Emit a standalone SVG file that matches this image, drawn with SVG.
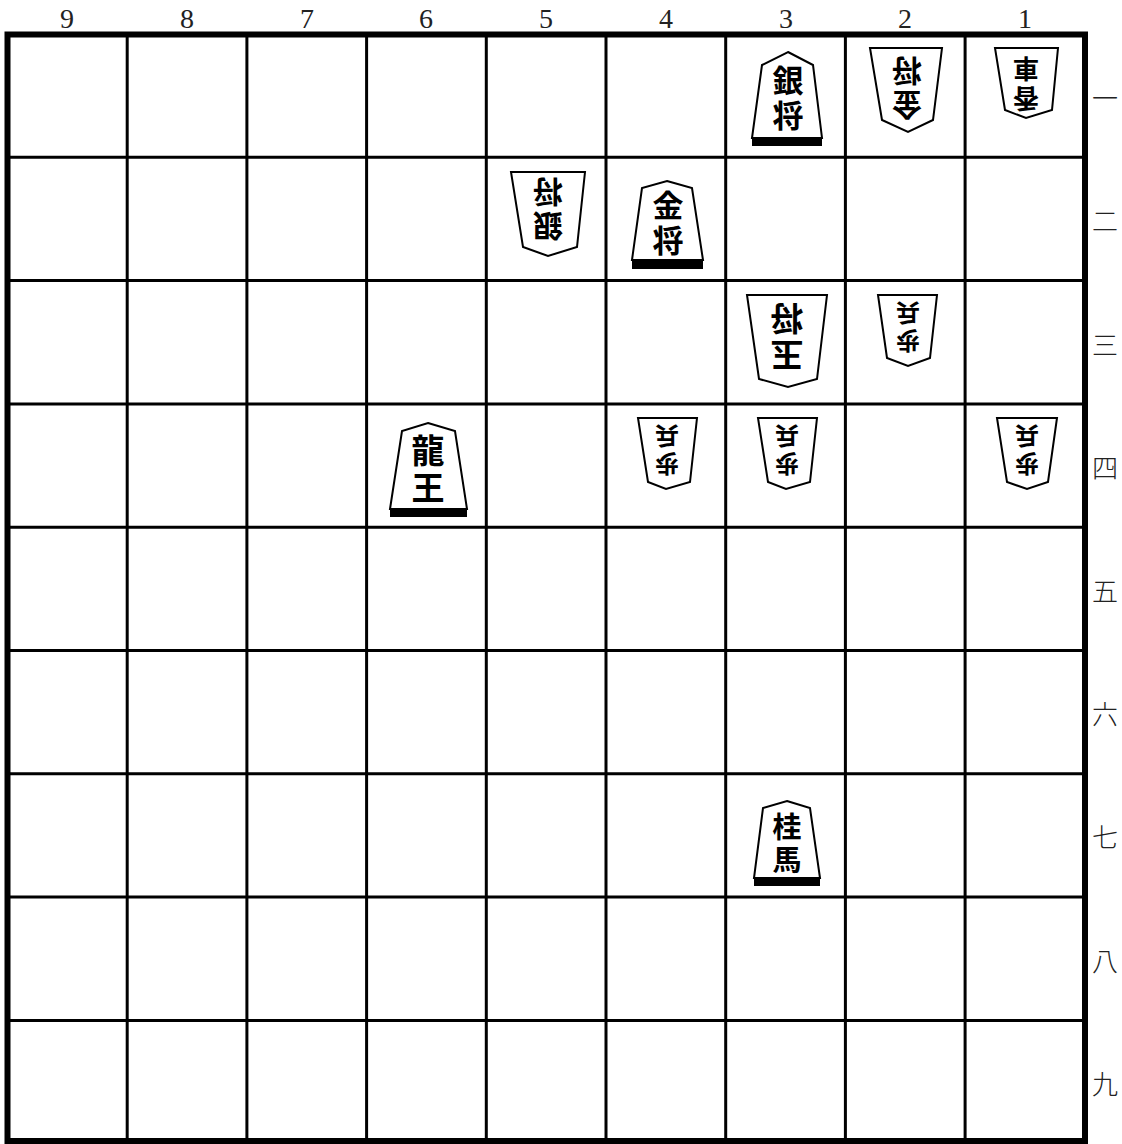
<svg xmlns="http://www.w3.org/2000/svg" width="1122" height="1144" viewBox="0 0 1122 1144">
<style>
.grid{stroke:#000;stroke-width:3;fill:none}
.border{stroke:#000;stroke-width:6;fill:none}
.col{font-family:"Liberation Serif",serif;font-size:28px;fill:#222;text-anchor:middle}
.row{font-family:"Noto Sans CJK JP",sans-serif;font-weight:300;font-size:26px;fill:#222;text-anchor:middle;dominant-baseline:central}
.pc{fill:#fff;stroke:#000;stroke-width:2;stroke-linejoin:miter}
.sh{fill:#000}
.ch{font-family:"Noto Sans CJK JP",sans-serif;font-weight:700;fill:#000;text-anchor:middle;writing-mode:vertical-rl;letter-spacing:4px}
</style>
<rect width="1122" height="1144" fill="#fff"/>
<g id="labels">
<text class="col" x="67" y="28">9</text>
<text class="col" x="187" y="28">8</text>
<text class="col" x="307" y="28">7</text>
<text class="col" x="426" y="28">6</text>
<text class="col" x="546" y="28">5</text>
<text class="col" x="666" y="28">4</text>
<text class="col" x="786" y="28">3</text>
<text class="col" x="905" y="28">2</text>
<text class="col" x="1025" y="28">1</text>
<text class="row" x="1105" y="96">一</text>
<text class="row" x="1105" y="219">二</text>
<text class="row" x="1105" y="343">三</text>
<text class="row" x="1105" y="466">四</text>
<text class="row" x="1105" y="589">五</text>
<text class="row" x="1105" y="712">六</text>
<text class="row" x="1105" y="835">七</text>
<text class="row" x="1105" y="959">八</text>
<text class="row" x="1105" y="1082">九</text>
</g>
<g id="board">
<path class="grid" d="M127.2 34V1141M246.9 34V1141M366.6 34V1141M486.3 34V1141M606 34V1141M725.7 34V1141M845.4 34V1141M965.1 34V1141M7.5 157.3H1085M7.5 280.6H1085M7.5 403.9H1085M7.5 527.2H1085M7.5 650.5H1085M7.5 773.8H1085M7.5 897.1H1085M7.5 1020.4H1085"/>
<rect class="border" x="7.5" y="34.5" width="1077.5" height="1106.5"/>
</g>
<g id="piece-3-1">
<polygon class="pc" points="788,52 813,65 822,138 752,138 762,65"/>
<rect class="sh" x="752" y="138" width="70" height="8"/>
<text class="ch" font-size="31" x="788" y="100">銀将</text>
</g>
<g id="piece-2-1">
<polygon class="pc" points="870,48 942,48 933,120 908,132 882,120"/>
<text class="ch" font-size="30" x="907" y="90" transform="rotate(180 907 88)">金将</text>
</g>
<g id="piece-1-1">
<polygon class="pc" points="995,48 1058,48 1052,110 1026,118 1005,110"/>
<text class="ch" font-size="26" x="1026" y="86" letter-spacing="3" transform="rotate(180 1026 84)">香車</text>
</g>
<g id="piece-5-2">
<polygon class="pc" points="511,172 585,172 577,247 548,256 523,247"/>
<text class="ch" font-size="30" x="548" y="211" transform="rotate(180 548 209)">銀将</text>
</g>
<g id="piece-4-2">
<polygon class="pc" points="667,181 692,188 703,260 632,260 642,188"/>
<rect class="sh" x="632" y="260" width="71" height="9"/>
<text class="ch" font-size="31" x="668" y="225">金将</text>
</g>
<g id="piece-3-3">
<polygon class="pc" points="747,295 827,295 817,379 788,387 759,379"/>
<text class="ch" font-size="33" x="787" y="339" transform="rotate(180 787 337)">玉将</text>
</g>
<g id="piece-2-3">
<polygon class="pc" points="878,295 937,295 930,358 908,366 887,358"/>
<text class="ch" font-size="24" x="908" y="329" transform="rotate(180 908 327)">歩兵</text>
</g>
<g id="piece-6-4">
<polygon class="pc" points="428,423 455,431 467,509 390,509 402,431"/>
<rect class="sh" x="390" y="509" width="77" height="8"/>
<text class="ch" font-size="33" x="428" y="471">龍王</text>
</g>
<g id="piece-4-4">
<polygon class="pc" points="638,418 697,418 690,482 666,489 648,482"/>
<text class="ch" font-size="24" x="667" y="452" transform="rotate(180 667 450)">歩兵</text>
</g>
<g id="piece-3-4">
<polygon class="pc" points="758,418 817,418 810,482 786,489 768,482"/>
<text class="ch" font-size="24" x="787" y="452" transform="rotate(180 787 450)">歩兵</text>
</g>
<g id="piece-1-4">
<polygon class="pc" points="997,418 1057,418 1048,482 1027,489 1007,482"/>
<text class="ch" font-size="24" x="1027" y="452" transform="rotate(180 1027 450)">歩兵</text>
</g>
<g id="piece-3-7">
<polygon class="pc" points="787,801 810,808 820,878 754,878 763,808"/>
<rect class="sh" x="754" y="878" width="66" height="8"/>
<text class="ch" font-size="29" x="787" y="845">桂馬</text>
</g>
</svg>
